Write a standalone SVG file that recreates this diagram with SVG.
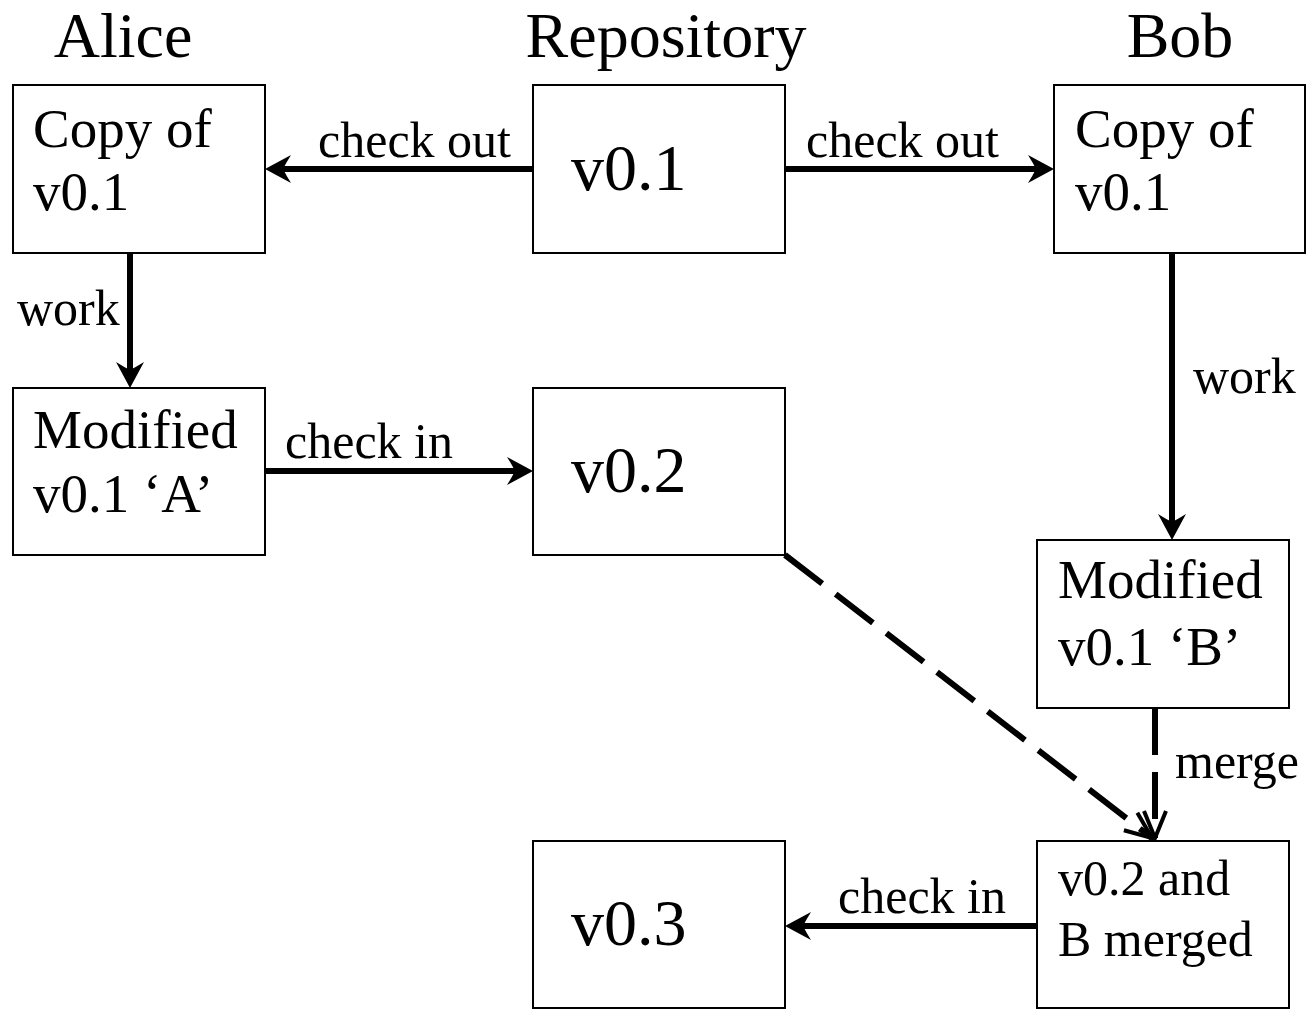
<svg xmlns="http://www.w3.org/2000/svg" width="1306" height="1013" viewBox="0 0 1306 1013">
  <style>
    text { font-family: "Liberation Serif", "Times New Roman", serif; fill: #000; }
    .title { font-size: 64px; text-anchor: middle; }
    .body { font-size: 55px; }
    .big { font-size: 66px; }
    .small { font-size: 50px; }
    .label { font-size: 50px; }
    .box { fill: #fff; stroke: #000; stroke-width: 2; }
    .edge { fill: none; stroke: #000; stroke-width: 6; }
    .dash { stroke-dasharray: 47 17; }
  </style>
  <defs>
    <!-- filled barbed head for solid arrows; the line stops inside the notch -->
    <marker id="barb" markerUnits="userSpaceOnUse" viewBox="-2 -15 30 30" refX="10" refY="0" markerWidth="30" markerHeight="30" orient="auto">
      <path d="M26,0 L0,-14 Q5,-6 8,0 Q5,6 0,14 Z" fill="#000"/>
    </marker>
    <!-- open V head for merge arrows -->
    <marker id="vee" markerUnits="userSpaceOnUse" viewBox="-30 -16 34 32" refX="0" refY="0" markerWidth="34" markerHeight="32" orient="auto">
      <path d="M-27,-11 L0,0 L-27,11" fill="none" stroke="#000" stroke-width="4"/>
    </marker>
  </defs>

  <!-- column headings -->
  <text class="title" x="123" y="57">Alice</text>
  <text class="title" x="666" y="57">Repository</text>
  <text class="title" x="1180" y="57">Bob</text>

  <!-- connectors (solid lines end 16px short of the target; the head fills the rest) -->
  <g id="connectors">
    <line class="edge" x1="533" y1="169" x2="281" y2="169" marker-end="url(#barb)"/>
    <text class="label" x="318" y="157">check out</text>
    <line class="edge" x1="785" y1="169" x2="1038" y2="169" marker-end="url(#barb)"/>
    <text class="label" x="806" y="157">check out</text>
    <line class="edge" x1="130" y1="253" x2="130" y2="372" marker-end="url(#barb)"/>
    <text class="label" x="17" y="325">work</text>
    <line class="edge" x1="1172" y1="253" x2="1172" y2="524" marker-end="url(#barb)"/>
    <text class="label" x="1193" y="393">work</text>
    <line class="edge" x1="265" y1="471" x2="517" y2="471" marker-end="url(#barb)"/>
    <text class="label" x="285" y="458">check in</text>
    <line class="edge dash" x1="785" y1="555" x2="1152" y2="838" marker-end="url(#vee)"/>
    <line class="edge dash" x1="1155" y1="708" x2="1155" y2="838" marker-end="url(#vee)"/>
    <text class="label" x="1175" y="778">merge</text>
    <line class="edge" x1="1037" y1="926" x2="801" y2="926" marker-end="url(#barb)"/>
    <text class="label" x="838" y="913">check in</text>
  </g>

  <!-- nodes -->
  <g id="alice-copy">
    <rect class="box" x="13" y="85" width="252" height="168"/>
    <text class="body" x="33" y="147">Copy of</text>
    <text class="body" x="33" y="210">v0.1</text>
  </g>
  <g id="repo-v01">
    <rect class="box" x="533" y="85" width="252" height="168"/>
    <text class="big" x="571" y="190">v0.1</text>
  </g>
  <g id="bob-copy">
    <rect class="box" x="1054" y="85" width="251" height="168"/>
    <text class="body" x="1075" y="147">Copy of</text>
    <text class="body" x="1075" y="210">v0.1</text>
  </g>
  <g id="alice-modified">
    <rect class="box" x="13" y="388" width="252" height="167"/>
    <text class="body" x="33" y="448">Modified</text>
    <text class="body" x="33" y="512">v0.1 ‘A’</text>
  </g>
  <g id="repo-v02">
    <rect class="box" x="533" y="388" width="252" height="167"/>
    <text class="big" x="571" y="492">v0.2</text>
  </g>
  <g id="bob-modified">
    <rect class="box" x="1037" y="540" width="252" height="168"/>
    <text class="body" x="1058" y="598">Modified</text>
    <text class="body" x="1058" y="665">v0.1 ‘B’</text>
  </g>
  <g id="repo-v03">
    <rect class="box" x="533" y="841" width="252" height="167"/>
    <text class="big" x="571" y="945">v0.3</text>
  </g>
  <g id="bob-merged">
    <rect class="box" x="1037" y="841" width="252" height="167"/>
    <text class="small" x="1058" y="895">v0.2 and</text>
    <text class="small" x="1058" y="956">B merged</text>
  </g>
</svg>
